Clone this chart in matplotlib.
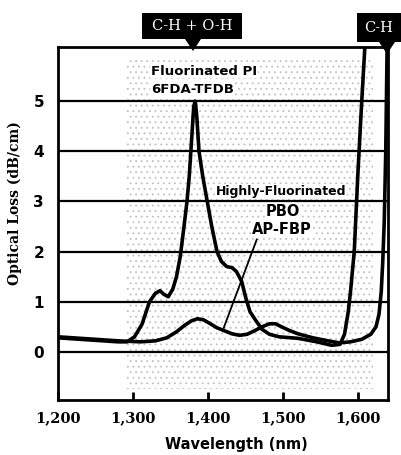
import matplotlib
matplotlib.use("Agg")
import matplotlib.pyplot as plt
from matplotlib.patches import Rectangle, Polygon

# Fluorinated PI (6FDA-TFDB)
pi_wl = [1200, 1240, 1280, 1292, 1302, 1312, 1322, 1330, 1336, 1341, 1347, 1353, 1358,
         1363, 1368, 1372, 1375, 1378, 1381, 1383, 1385, 1388, 1393, 1399, 1405, 1412,
         1418, 1425, 1432, 1438, 1445, 1450, 1456, 1464, 1472, 1482, 1495, 1520, 1545,
         1565, 1576, 1582, 1587, 1590, 1595, 1600, 1605, 1610]
pi_loss = [0.28, 0.24, 0.2, 0.2, 0.3, 0.55, 1.0, 1.17, 1.22, 1.15, 1.1, 1.25, 1.5,
           1.9, 2.5, 3.0, 3.5, 4.2, 4.9, 5.0, 4.7, 4.0, 3.5, 3.0, 2.5, 2.0,
           1.8, 1.7, 1.68, 1.6, 1.4, 1.1, 0.8, 0.62, 0.45, 0.35, 0.3, 0.27, 0.2,
           0.13, 0.15, 0.35, 0.8, 1.2, 2.0, 3.6, 5.0, 6.3]

# Highly-fluorinated PBO (AP-FBP)
pbo_wl = [1200, 1240, 1280, 1310, 1330, 1345, 1358, 1368, 1378, 1386, 1394, 1402, 1412,
          1422, 1432, 1442, 1452, 1462, 1472, 1482, 1490, 1498, 1508, 1520, 1540, 1560,
          1575, 1590, 1605, 1617, 1624, 1628, 1631, 1633, 1635, 1637, 1639]
pbo_loss = [0.3, 0.26, 0.22, 0.2, 0.22, 0.28, 0.4, 0.52, 0.62, 0.66, 0.64, 0.57, 0.48,
            0.42, 0.36, 0.33, 0.35, 0.42, 0.5, 0.56, 0.56, 0.5, 0.43, 0.36, 0.28, 0.22,
            0.18, 0.2, 0.25, 0.35, 0.5, 0.75, 1.2, 1.8, 2.6, 4.0, 6.3]

x_ticks = [1200, 1300, 1400, 1500, 1600]
x_labels = ["1,200", "1,300", "1,400", "1,500", "1,600"]
y_ticks = [0, 1, 2, 3, 4, 5]

fig = plt.figure(figsize=(4.01, 4.55), dpi=100)
ax = fig.add_axes([58 / 401, 1 - 400 / 455, 330 / 401, 353 / 455])
ax.set_xlim(1200, 1640)
ax.set_ylim(-0.96, 6.08)

# speckled scan texture
plt.rcParams['hatch.linewidth'] = 0.6
ax.add_patch(Rectangle((1290, -0.75), 330, 6.6, facecolor="none", edgecolor="#c0c0c0",
                       hatch="...", linewidth=0, zorder=0))

for y in y_ticks:
    ax.axhline(y, color="black", lw=1.6, zorder=1)

ax.plot(pi_wl, pi_loss, color="black", lw=2.6, zorder=3, solid_joinstyle="round")
ax.plot(pbo_wl, pbo_loss, color="black", lw=2.6, zorder=3, solid_joinstyle="round")

for s in ax.spines.values():
    s.set_linewidth(2)

ax.set_xticks(x_ticks)
ax.set_xticklabels(x_labels, fontfamily="DejaVu Serif", fontweight="bold", fontsize=10.5)
ax.tick_params(axis="x", direction="in", length=6, width=2, pad=8)
ax.set_yticks(y_ticks)
ax.set_yticklabels([str(v) for v in y_ticks], fontweight="bold", fontsize=11)
ax.tick_params(axis="y", length=0, pad=10)

ax.set_xlabel("Wavelength (nm)", fontweight="bold", fontsize=10.5)
ax.xaxis.set_label_coords(0.542, -0.104)
ax.set_ylabel("Optical Loss (dB/cm)", fontfamily="DejaVu Serif", fontweight="bold",
              fontsize=10)
ax.yaxis.set_label_coords(-0.11, 0.558)

bold = dict(fontweight="bold", zorder=4,
            bbox=dict(facecolor="white", edgecolor="none", pad=0.5))
ax.text(1324, 5.6, "Fluorinated PI", ha="left", va="center", fontsize=9.5, **bold)
ax.text(1324, 5.24, "6FDA-TFDB", ha="left", va="center", fontsize=9.5, **bold)
ax.text(1497, 3.2, "Highly-Fluorinated", ha="center", va="center", fontsize=9, **bold)
ax.text(1500, 2.8, "PBO", ha="center", va="center", fontsize=10.5, **bold)
ax.text(1499, 2.44, "AP-FBP", ha="center", va="center", fontsize=10.5, **bold)
ax.plot([1465, 1421], [2.24, 0.48], color="black", lw=1.3, zorder=3)

# band labels above the frame
def band(x0, x1, y0, y1, xa, label):
    fig.patches.append(Rectangle((x0 / 401, 1 - y1 / 455), (x1 - x0) / 401, (y1 - y0) / 455,
                                 transform=fig.transFigure, facecolor="black", edgecolor="none"))
    fig.patches.append(Polygon([((xa - 8) / 401, 1 - y1 / 455), ((xa + 8) / 401, 1 - y1 / 455),
                                (xa / 401, 1 - (y1 + 12) / 455)], closed=True,
                               transform=fig.transFigure, facecolor="black", edgecolor="none"))
    fig.text((x0 + x1) / 2 / 401, 1 - (y0 + y1) / 2 / 455, label, color="white",
             ha="center", va="center", fontfamily="DejaVu Serif", fontsize=10.5)

band(142, 242, 13, 39, 193, "C-H + O-H")
band(357, 401, 13, 42, 387, "C-H")

fig.savefig("out.png", dpi=100)
